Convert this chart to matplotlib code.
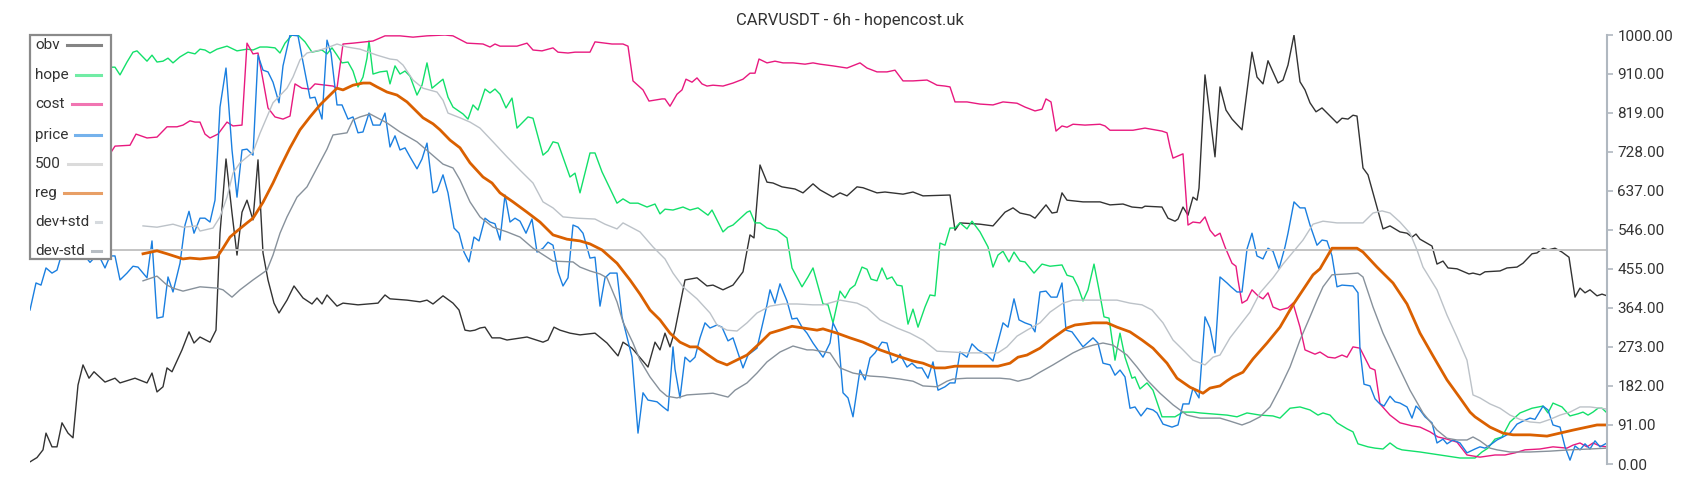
import numpy as np
import matplotlib.pyplot as plt
from matplotlib.patches import Rectangle
from matplotlib.lines import Line2D

plt.rcParams['font.family'] = ['Roboto', 'DejaVu Sans']

# (bar, value) pairs
obv = [(30, 5), (37, 15), (43, 33), (46, 72), (52, 40), (57, 40), (62, 96), (68, 72), (73, 61), (78, 184),
       (83, 231), (89, 200), (94, 215), (105, 191), (115, 200), (120, 189), (135, 200), (147, 189), (152, 212),
       (157, 168), (163, 180), (167, 224), (172, 215), (182, 266), (189, 308), (194, 282), (200, 296), (210, 284),
       (216, 312), (220, 538), (226, 711), (232, 585), (237, 487), (242, 587), (247, 615), (253, 569), (258, 709),
       (263, 492), (268, 429), (274, 375), (279, 352), (287, 382), (294, 415), (303, 387), (312, 373), (317, 387),
       (322, 373), (327, 394), (337, 368), (343, 375), (358, 371), (378, 375), (385, 394), (390, 385), (407, 382),
       (420, 378), (427, 382), (433, 373), (443, 392), (453, 375), (459, 359), (465, 312), (470, 310), (475, 312),
       (480, 317), (485, 319), (492, 294), (500, 294), (507, 289), (527, 296), (543, 284), (548, 289), (554, 319),
       (560, 312), (570, 305), (580, 301), (595, 305), (607, 282), (618, 252), (623, 284), (632, 270), (648, 226),
       (655, 284), (660, 266), (665, 305), (670, 273), (675, 312), (685, 429), (697, 434), (707, 415), (713, 417),
       (723, 406), (733, 417), (743, 448), (750, 534), (754, 527), (760, 697), (767, 657), (773, 655), (782, 646),
       (795, 641), (803, 632), (813, 653), (820, 639), (833, 622), (840, 632), (847, 625), (857, 646), (863, 644),
       (877, 632), (885, 634), (903, 629), (913, 634), (923, 625), (950, 627), (955, 545), (960, 562), (980, 559),
       (993, 555), (1005, 587), (1013, 597), (1020, 585), (1030, 580), (1035, 573), (1046, 604), (1052, 585),
       (1057, 587), (1062, 632), (1067, 615), (1083, 611), (1100, 611), (1110, 604), (1123, 606), (1132, 599),
       (1142, 597), (1145, 601), (1162, 599), (1168, 573), (1175, 566), (1178, 571), (1183, 599), (1188, 580),
       (1193, 622), (1197, 615), (1199, 643), (1205, 907), (1215, 716), (1220, 879), (1226, 825), (1232, 804),
       (1242, 779), (1252, 960), (1257, 902), (1263, 886), (1268, 940), (1278, 888), (1283, 895), (1288, 930),
       (1294, 1000), (1300, 891), (1305, 872), (1310, 842), (1316, 821), (1322, 830), (1337, 795), (1342, 806),
       (1348, 804), (1353, 813), (1357, 811), (1363, 690), (1368, 674), (1373, 632), (1380, 573), (1383, 548),
       (1390, 555), (1400, 541), (1407, 538), (1412, 529), (1416, 536), (1420, 524), (1432, 508), (1437, 466),
       (1443, 473), (1448, 457), (1457, 455), (1469, 443), (1473, 445), (1480, 441), (1485, 448), (1500, 450),
       (1507, 457), (1517, 459), (1523, 468), (1532, 490), (1537, 492), (1543, 503), (1548, 499), (1555, 503),
       (1562, 494), (1569, 482), (1575, 389), (1580, 410), (1585, 399), (1590, 406), (1597, 392), (1602, 396),
       (1607, 392)]

hope = [(30, 930), (45, 950), (60, 940), (75, 955), (90, 945), (100, 935), (110, 925), (115, 925), (120, 907),
        (127, 937), (133, 960), (137, 963), (147, 939), (152, 953), (157, 937), (163, 939), (168, 946), (173, 935),
        (180, 949), (188, 960), (195, 956), (200, 967), (205, 965), (210, 958), (217, 967), (227, 974), (237, 963),
        (247, 967), (253, 965), (260, 972), (267, 972), (275, 970), (280, 958), (285, 981), (292, 1000), (298, 1000),
        (305, 984), (312, 960), (322, 965), (327, 956), (332, 970), (337, 953), (342, 935), (348, 937), (353, 916),
        (358, 879), (363, 902), (367, 946), (369, 986), (373, 909), (380, 914), (387, 916), (390, 886), (395, 928),
        (400, 909), (405, 916), (410, 904), (417, 860), (422, 883), (427, 935), (432, 876), (443, 897), (448, 855),
        (453, 832), (463, 816), (468, 804), (473, 837), (478, 825), (485, 874), (490, 865), (495, 874), (500, 862),
        (506, 830), (512, 853), (517, 783), (528, 809), (533, 806), (543, 720), (548, 730), (553, 751), (558, 748),
        (570, 669), (575, 678), (580, 632), (590, 725), (595, 725), (602, 681), (617, 608), (623, 618), (630, 608),
        (638, 608), (647, 599), (655, 606), (660, 583), (665, 594), (673, 592), (683, 599), (690, 592), (698, 597),
        (708, 580), (712, 592), (723, 541), (728, 552), (733, 557), (747, 587), (750, 590), (755, 562), (760, 562),
        (767, 550), (777, 545), (787, 527), (792, 457), (802, 413), (808, 436), (813, 457), (823, 373), (828, 371),
        (833, 329), (840, 403), (845, 387), (850, 408), (855, 417), (862, 459), (867, 454), (871, 431), (877, 427),
        (882, 457), (887, 431), (892, 436), (897, 417), (902, 415), (908, 326), (913, 361), (918, 319), (925, 366),
        (930, 394), (935, 392), (940, 515), (945, 510), (950, 550), (955, 550), (960, 562), (967, 548), (972, 566),
        (980, 541), (988, 506), (993, 459), (998, 487), (1003, 496), (1009, 471), (1014, 494), (1020, 473),
        (1025, 471), (1034, 445), (1042, 466), (1050, 461), (1062, 464), (1067, 440), (1073, 436), (1078, 413),
        (1083, 380), (1088, 406), (1094, 466), (1099, 406), (1104, 343), (1109, 340), (1115, 242), (1120, 305),
        (1125, 249), (1132, 200), (1135, 203), (1140, 175), (1147, 189), (1153, 172), (1162, 110), (1175, 110),
        (1183, 121), (1193, 121), (1200, 119), (1227, 114), (1237, 110), (1247, 119), (1260, 114), (1273, 112),
        (1280, 107), (1290, 130), (1300, 133), (1310, 126), (1318, 114), (1323, 119), (1330, 114), (1337, 96),
        (1347, 82), (1353, 75), (1358, 47), (1368, 40), (1375, 37), (1383, 35), (1390, 49), (1397, 37), (1402, 33),
        (1420, 28), (1440, 21), (1460, 14), (1475, 14), (1482, 28), (1488, 37), (1495, 58), (1502, 63), (1510, 98),
        (1520, 119), (1532, 130), (1543, 135), (1548, 119), (1553, 142), (1562, 133), (1570, 112), (1578, 117),
        (1583, 121), (1588, 114), (1593, 121), (1598, 130), (1602, 130), (1607, 119)]

cost = [(30, 700), (50, 705), (70, 715), (90, 712), (110, 723), (115, 741), (130, 743), (136, 769), (147, 760),
        (157, 762), (167, 786), (177, 786), (183, 790), (190, 800), (195, 797), (200, 797), (205, 769), (210, 760),
        (218, 769), (227, 797), (233, 788), (242, 790), (247, 981), (253, 956), (258, 958), (263, 895), (268, 830),
        (275, 809), (283, 804), (290, 811), (295, 886), (302, 876), (310, 874), (315, 886), (333, 881), (337, 876),
        (343, 979), (353, 981), (365, 984), (373, 986), (385, 998), (400, 998), (413, 995), (427, 998), (445, 1000),
        (453, 998), (467, 981), (483, 979), (490, 972), (495, 979), (500, 974), (517, 974), (527, 981), (533, 965),
        (542, 963), (553, 970), (558, 960), (568, 958), (575, 960), (590, 960), (595, 984), (612, 979), (623, 979),
        (628, 974), (633, 893), (643, 872), (649, 846), (662, 851), (665, 851), (670, 834), (677, 862), (682, 872),
        (686, 897), (692, 890), (697, 900), (702, 886), (707, 881), (713, 883), (723, 881), (733, 888), (743, 897),
        (750, 911), (755, 911), (759, 944), (767, 935), (775, 939), (783, 935), (793, 935), (805, 932), (813, 935),
        (820, 932), (833, 928), (847, 923), (860, 935), (867, 923), (877, 914), (887, 914), (895, 918), (903, 893),
        (913, 893), (927, 895), (933, 888), (937, 883), (945, 881), (950, 879), (955, 844), (967, 844), (980, 839),
        (993, 837), (1003, 844), (1017, 841), (1025, 832), (1035, 823), (1042, 827), (1046, 851), (1051, 844),
        (1056, 776), (1062, 788), (1067, 785), (1073, 792), (1085, 790), (1100, 792), (1105, 788), (1110, 778),
        (1133, 778), (1145, 783), (1162, 776), (1167, 772), (1170, 739), (1173, 713), (1183, 723), (1188, 557),
        (1193, 564), (1200, 562), (1205, 576), (1210, 545), (1215, 531), (1220, 538), (1225, 506), (1232, 468),
        (1236, 461), (1238, 429), (1242, 375), (1247, 382), (1252, 406), (1258, 392), (1263, 385), (1268, 399),
        (1273, 366), (1280, 359), (1288, 364), (1293, 375), (1300, 319), (1305, 266), (1315, 256), (1320, 261),
        (1328, 249), (1335, 247), (1342, 254), (1347, 249), (1353, 273), (1360, 270), (1365, 247), (1370, 224),
        (1375, 219), (1380, 140), (1390, 114), (1400, 96), (1412, 89), (1420, 86), (1430, 75), (1438, 63),
        (1447, 58), (1457, 51), (1467, 21), (1480, 16), (1495, 21), (1505, 21), (1515, 26), (1525, 33), (1540, 35),
        (1553, 40), (1567, 37), (1573, 44), (1580, 49), (1587, 40), (1593, 49), (1600, 42), (1607, 40)]

price = [(30, 359), (36, 422), (41, 417), (46, 457), (52, 445), (57, 452), (62, 492), (70, 480), (80, 500),
         (90, 470), (98, 490), (105, 457), (110, 485), (115, 485), (120, 429), (127, 445), (133, 461), (138, 459),
         (147, 434), (152, 520), (157, 340), (163, 343), (168, 436), (173, 401), (180, 468), (185, 557), (189, 589),
         (194, 538), (200, 573), (205, 573), (210, 564), (215, 615), (220, 832), (226, 923), (232, 732), (237, 622),
         (242, 732), (247, 734), (253, 720), (258, 953), (263, 918), (268, 914), (273, 890), (279, 842), (283, 928),
         (290, 1000), (298, 998), (303, 937), (310, 853), (315, 855), (322, 804), (327, 988), (331, 958), (335, 876),
         (337, 837), (342, 837), (348, 804), (353, 809), (358, 772), (363, 774), (369, 818), (373, 790), (380, 790),
         (385, 818), (390, 739), (395, 765), (400, 732), (405, 737), (410, 716), (417, 688), (422, 711), (427, 748),
         (433, 632), (437, 636), (443, 674), (448, 632), (454, 550), (459, 538), (464, 494), (469, 471), (474, 529),
         (479, 520), (485, 573), (490, 564), (495, 560), (500, 522), (505, 627), (510, 564), (515, 573), (520, 566),
         (526, 538), (532, 571), (537, 494), (543, 503), (548, 517), (553, 510), (558, 448), (563, 415), (568, 434),
         (573, 557), (578, 552), (583, 538), (590, 480), (595, 482), (600, 368), (605, 434), (610, 445), (617, 445),
         (622, 343), (632, 249), (638, 72), (643, 166), (648, 149), (657, 145), (663, 133), (668, 124), (673, 273),
         (675, 221), (680, 154), (685, 249), (690, 238), (695, 249), (700, 294), (705, 329), (710, 317), (717, 324),
         (722, 319), (728, 287), (733, 294), (743, 224), (748, 254), (757, 270), (767, 371), (770, 406), (775, 375),
         (780, 420), (787, 380), (792, 338), (797, 340), (802, 319), (807, 305), (813, 282), (823, 249), (830, 282),
         (833, 329), (838, 305), (843, 166), (848, 154), (853, 110), (860, 219), (865, 196), (870, 247), (875, 259),
         (882, 284), (887, 282), (892, 236), (897, 243), (900, 256), (907, 226), (912, 235), (917, 224), (922, 224),
         (928, 200), (933, 238), (938, 172), (945, 180), (950, 189), (955, 189), (960, 261), (967, 249), (972, 280),
         (978, 266), (987, 254), (993, 240), (1003, 329), (1008, 319), (1014, 385), (1019, 336), (1025, 329),
         (1031, 324), (1035, 308), (1040, 401), (1046, 403), (1051, 389), (1057, 389), (1062, 422), (1066, 312),
         (1072, 308), (1083, 273), (1093, 294), (1098, 282), (1103, 235), (1110, 231), (1115, 207), (1120, 219),
         (1125, 203), (1130, 130), (1135, 133), (1141, 112), (1147, 130), (1153, 126), (1157, 119), (1163, 93),
         (1172, 86), (1178, 91), (1183, 140), (1189, 140), (1193, 177), (1199, 154), (1205, 343), (1210, 317),
         (1215, 259), (1220, 436), (1227, 422), (1231, 413), (1237, 401), (1242, 401), (1247, 501), (1252, 538),
         (1257, 485), (1263, 478), (1268, 503), (1273, 496), (1279, 455), (1285, 506), (1288, 538), (1294, 611),
         (1300, 597), (1305, 597), (1310, 557), (1317, 510), (1322, 522), (1327, 520), (1332, 485), (1337, 413),
         (1342, 417), (1353, 415), (1358, 399), (1360, 266), (1364, 186), (1370, 182), (1375, 152), (1379, 142),
         (1384, 135), (1390, 158), (1395, 145), (1400, 142), (1407, 133), (1412, 107), (1416, 135), (1420, 126),
         (1425, 110), (1432, 96), (1437, 49), (1443, 58), (1447, 47), (1453, 56), (1460, 49), (1467, 26),
         (1475, 35), (1480, 40), (1485, 37), (1490, 44), (1497, 56), (1503, 63), (1510, 72), (1517, 93),
         (1523, 100), (1530, 107), (1535, 104), (1543, 135), (1548, 126), (1553, 91), (1560, 86), (1565, 40),
         (1570, 9), (1575, 42), (1580, 33), (1585, 47), (1590, 35), (1595, 54), (1600, 40), (1607, 49)]

reg = [(143, 490), (157, 497), (167, 490), (183, 478), (190, 480), (200, 478), (217, 482), (223, 503), (230, 529),
       (237, 543), (247, 562), (253, 573), (263, 610), (273, 655), (280, 690), (290, 737), (300, 779), (310, 809),
       (320, 837), (330, 860), (337, 876), (343, 872), (353, 883), (363, 888), (370, 888), (377, 879), (387, 867),
       (397, 860), (407, 844), (417, 821), (423, 807), (433, 793), (440, 779), (450, 755), (460, 737), (470, 702),
       (483, 669), (492, 655), (500, 632), (513, 611), (527, 587), (540, 564), (553, 534), (567, 524), (580, 520),
       (590, 513), (602, 499), (617, 468), (630, 429), (640, 396), (650, 359), (660, 336), (670, 305), (680, 284),
       (690, 273), (697, 273), (707, 256), (717, 240), (727, 231), (733, 238), (747, 254), (760, 282), (770, 305),
       (780, 312), (792, 321), (803, 317), (817, 312), (823, 315), (837, 305), (850, 294), (863, 284), (880, 266),
       (897, 252), (913, 240), (923, 235), (935, 224), (945, 224), (955, 228), (998, 228), (1010, 235), (1018, 249),
       (1027, 254), (1040, 270), (1050, 289), (1067, 317), (1075, 324), (1093, 329), (1107, 329), (1117, 319),
       (1130, 308), (1142, 289), (1153, 270), (1167, 235), (1177, 200), (1190, 179), (1203, 165), (1210, 177),
       (1220, 182), (1227, 194), (1233, 203), (1243, 214), (1253, 245), (1267, 282), (1280, 319), (1293, 371),
       (1303, 406), (1313, 441), (1320, 455), (1332, 503), (1357, 503), (1363, 494), (1377, 459), (1393, 422),
       (1407, 373), (1420, 305), (1433, 252), (1447, 196), (1460, 154), (1470, 121), (1475, 110), (1490, 86),
       (1503, 72), (1513, 68), (1530, 68), (1547, 65), (1560, 72), (1573, 79), (1587, 86), (1597, 91), (1607, 91)]

dev_plus = [(143, 555), (157, 552), (173, 559), (183, 552), (197, 555), (200, 543), (213, 550), (220, 576),
            (227, 622), (233, 678), (240, 702), (253, 727), (260, 771), (267, 809), (273, 842), (287, 876),
            (293, 902), (300, 942), (307, 958), (320, 965), (327, 970), (337, 979), (347, 972), (360, 967),
            (377, 953), (390, 944), (397, 942), (403, 930), (413, 895), (423, 876), (437, 867), (443, 848),
            (448, 818), (460, 807), (470, 797), (480, 783), (493, 751), (507, 716), (520, 685), (533, 655),
            (543, 611), (553, 597), (563, 576), (577, 573), (595, 571), (605, 559), (617, 548), (623, 562),
            (640, 541), (653, 506), (665, 478), (673, 445), (683, 413), (697, 385), (710, 352), (717, 324),
            (727, 312), (737, 310), (747, 329), (757, 352), (770, 368), (783, 373), (797, 373), (813, 371),
            (823, 371), (840, 382), (857, 375), (867, 364), (880, 336), (897, 317), (910, 305), (923, 289),
            (937, 263), (953, 261), (967, 259), (980, 259), (998, 259), (1007, 273), (1017, 298), (1027, 312),
            (1040, 329), (1050, 354), (1063, 375), (1073, 382), (1117, 382), (1130, 375), (1142, 371), (1152, 359),
            (1163, 329), (1173, 289), (1183, 266), (1193, 242), (1205, 231), (1213, 249), (1220, 254), (1230, 294),
            (1240, 324), (1250, 354), (1260, 399), (1273, 434), (1283, 466), (1293, 494), (1303, 522), (1313, 559),
            (1323, 566), (1337, 562), (1363, 562), (1373, 585), (1382, 590), (1390, 585), (1400, 564), (1410, 538),
            (1417, 499), (1423, 459), (1437, 406), (1447, 347), (1457, 296), (1467, 242), (1473, 161), (1480, 154),
            (1490, 140), (1500, 130), (1510, 114), (1520, 104), (1530, 98), (1540, 96), (1550, 104), (1560, 114),
            (1570, 121), (1580, 133), (1590, 133), (1600, 130), (1607, 128)]

dev_minus = [(143, 427), (157, 438), (167, 417), (173, 410), (183, 403), (200, 413), (217, 410), (223, 406),
             (232, 389), (240, 406), (253, 429), (267, 452), (273, 487), (280, 538), (287, 576), (297, 622),
             (307, 646), (317, 690), (327, 734), (333, 767), (347, 772), (353, 802), (360, 809), (370, 816),
             (387, 795), (400, 774), (417, 751), (430, 725), (443, 699), (453, 690), (460, 662), (470, 611),
             (480, 576), (493, 552), (507, 541), (520, 529), (533, 503), (547, 482), (553, 473), (573, 471),
             (580, 459), (590, 450), (600, 443), (607, 434), (617, 378), (623, 331), (633, 282), (640, 242),
             (650, 203), (660, 172), (667, 158), (677, 154), (687, 161), (713, 165), (728, 156), (735, 172),
             (747, 189), (757, 212), (767, 238), (780, 261), (793, 275), (807, 266), (813, 266), (830, 259),
             (840, 224), (853, 212), (870, 205), (883, 203), (900, 198), (913, 193), (923, 182), (937, 180),
             (947, 193), (953, 198), (967, 200), (1000, 200), (1010, 198), (1018, 193), (1030, 200), (1040, 214),
             (1053, 231), (1063, 245), (1073, 259), (1083, 270), (1093, 277), (1103, 282), (1113, 277), (1127, 254),
             (1137, 226), (1147, 196), (1160, 165), (1173, 138), (1187, 114), (1200, 107), (1220, 107), (1230, 100),
             (1242, 91), (1250, 98), (1260, 110), (1270, 133), (1280, 177), (1290, 226), (1300, 289), (1310, 343),
             (1317, 382), (1323, 413), (1332, 441), (1347, 443), (1358, 445), (1363, 436), (1373, 366), (1383, 305),
             (1397, 235), (1410, 172), (1423, 119), (1437, 79), (1447, 60), (1457, 56), (1467, 56), (1473, 63),
             (1480, 54), (1490, 37), (1497, 33), (1510, 28), (1530, 28), (1550, 30), (1570, 33), (1590, 35),
             (1607, 37)]

level = 500
yticks = [0, 91, 182, 273, 364, 455, 546, 637, 728, 819, 910, 1000]
labels = ['obv', 'hope', 'cost', 'price', '500', 'reg', 'dev+std', 'dev-std']
colors = ['#333333', '#12e06a', '#e8197f', '#1a7fe0', '#c4c4c4', '#da6000', '#bcc2c8', '#87919b']

W, H = 1700, 500
fig = plt.figure(figsize=(17, 5), dpi=100)
ax = fig.add_axes([30 / W, 36 / H, 1577 / W, 429 / H])


def draw(data, **kw):
    t, v = zip(*data)
    ax.plot(t, v, **kw)


draw(obv, color=colors[0], lw=1.0)
draw(hope, color=colors[1], lw=1.0)
draw(cost, color=colors[2], lw=1.0)
draw(price, color=colors[3], lw=1.0)
ax.axhline(level, color=colors[4], lw=1.4)
draw(reg, color=colors[5], lw=2.0)
draw(dev_plus, color=colors[6], lw=1.0)
draw(dev_minus, color=colors[7], lw=1.0)

ax.set_xlim(30, 1607)
ax.set_ylim(0, 1000)
ax.set_xticks([])
ax.yaxis.tick_right()
ax.set_yticks(yticks)
ax.set_yticklabels(['%.2f' % v for v in yticks])
ax.tick_params(axis='y', color='#b0b8c0', labelcolor='#333333', labelsize=11, length=4, width=1.2)
for s in ['left', 'top', 'bottom']:
    ax.spines[s].set_visible(False)
ax.spines['right'].set_color('#b0b8c0')
ax.spines['right'].set_linewidth(1.5)

fig.text(0.5, 1 - 20 / H, 'CARVUSDT - 6h - hopencost.uk', ha='center', va='center', fontsize=12, color='#333333')

# legend box drawn by hand: labels left, sample lines right
fx = lambda px: px / W
fy = lambda py: 1 - py / H
fig.add_artist(Rectangle((fx(30), fy(259)), fx(81), 224 / H, transform=fig.transFigure,
                         facecolor='white', edgecolor='#8a8a8a', lw=1.6, zorder=5))
rows = [45, 75, 104, 135, 164, 193, 222, 251]
fig.canvas.draw()
rend = fig.canvas.get_renderer()
for lab, col, ry in zip(labels, colors, rows):
    t = fig.text(fx(35), fy(ry), lab, ha='left', va='center', fontsize=11, color='#333333', zorder=6)
    x_end = t.get_window_extent(rend).x1 / W
    fig.add_artist(Line2D([x_end + fx(7), fx(101)], [fy(ry), fy(ry)], transform=fig.transFigure,
                          color=col, lw=2.2, alpha=0.6, zorder=6))

fig.savefig('out.png', dpi=100)
